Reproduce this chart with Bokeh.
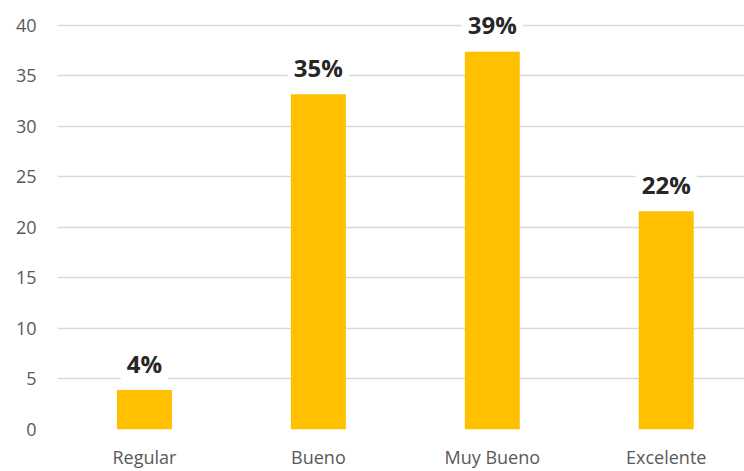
from bokeh.plotting import figure
from bokeh.models import Range1d, ColumnDataSource, FixedTicker
from bokeh.core.properties import value
from bokeh.embed import file_html
from bokeh.resources import INLINE

categories = ["Regular", "Bueno", "Muy Bueno", "Excelente"]
values = [3.9, 33.2, 37.4, 21.6]
labels = ["4%", "35%", "39%", "22%"]
y_ticks = [0, 5, 10, 15, 20, 25, 30, 35, 40]

xs = [i + 0.5 for i in range(len(categories))]
src = ColumnDataSource(dict(x=xs, top=values, label=labels))

p = figure(width=744, height=471, output_backend="svg", toolbar_location=None,
           x_range=Range1d(0, 3.95), y_range=Range1d(0, 42.47))
p.min_border_left = 57
p.min_border_right = 0
p.min_border_top = 0
p.min_border_bottom = 41
p.outline_line_color = None
p.background_fill_color = "white"

p.vbar(x="x", top="top", width=0.316, source=src, color="#FFC000", line_color=None)

p.text(x="x", y="top", text="label", source=src, text_align="center",
       text_baseline="middle", y_offset=-27, text_font=value("Open Sans"),
       text_font_style="bold", text_font_size="24px", text_color="#262626",
       background_fill_color="white", padding=6)

p.xaxis.ticker = FixedTicker(ticks=xs)
p.xaxis.major_label_overrides = {x: c for x, c in zip(xs, categories)}
p.yaxis.ticker = FixedTicker(ticks=y_ticks)
for ax in (p.xaxis[0], p.yaxis[0]):
    ax.axis_line_color = None
    ax.major_tick_line_color = None
    ax.minor_tick_line_color = None
    ax.major_tick_out = 0
    ax.major_tick_in = 0
    ax.minor_tick_out = 0
    ax.minor_tick_in = 0
    ax.major_label_text_color = "#595959"
    ax.major_label_text_font = "Open Sans"
p.xaxis.major_label_text_font_size = "18px"
p.xaxis.major_label_standoff = 15
p.yaxis.major_label_text_font_size = "18px"
p.yaxis.major_label_standoff = 21
p.xgrid.grid_line_color = None
p.ygrid.grid_line_color = "#D9D9D9"
p.ygrid.grid_line_width = 1.5
p.ygrid.ticker = FixedTicker(ticks=y_ticks)
p.ygrid.level = "underlay"

open("out.html", "w").write(file_html(p, INLINE))
